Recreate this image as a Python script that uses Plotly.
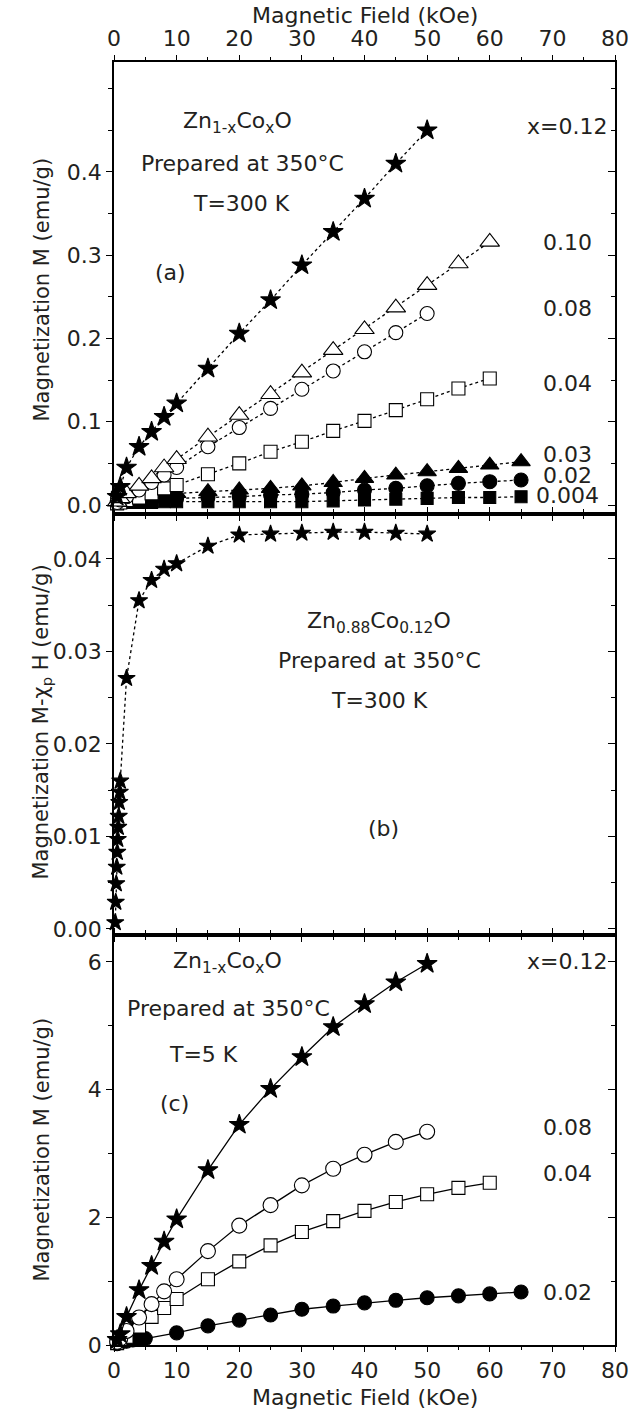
import plotly.graph_objects as go

# ---------------- data ----------------
# Panel (a): Zn1-xCoxO, 350C, T=300 K  (M in emu/g, H in kOe)
a_H_x12 = [0.5, 1, 2, 4, 6, 8, 10, 15, 20, 25, 30, 35, 40, 45, 50]
a_M_x12 = [0.010, 0.022, 0.045, 0.070, 0.088, 0.106, 0.122, 0.164, 0.206, 0.246, 0.288, 0.328, 0.368, 0.410, 0.450]

a_H_x10 = [0.5, 1, 2, 4, 6, 8, 10, 15, 20, 25, 30, 35, 40, 45, 50, 55, 60]
a_M_x10 = [0.004, 0.008, 0.014, 0.023, 0.032, 0.045, 0.055, 0.082, 0.108, 0.133, 0.159, 0.186, 0.211, 0.237, 0.264, 0.290, 0.316]

a_H_x08 = [0.5, 1, 2, 4, 6, 8, 10, 15, 20, 25, 30, 35, 40, 45, 50]
a_M_x08 = [0.003, 0.006, 0.010, 0.018, 0.027, 0.036, 0.045, 0.070, 0.093, 0.116, 0.139, 0.161, 0.184, 0.207, 0.230]

a_H_x04 = [0.5, 1, 2, 4, 6, 8, 10, 15, 20, 25, 30, 35, 40, 45, 50, 55, 60]
a_M_x04 = [0.002, 0.003, 0.006, 0.009, 0.014, 0.020, 0.024, 0.037, 0.050, 0.064, 0.076, 0.089, 0.101, 0.114, 0.127, 0.140, 0.152]

a_H_low = [1, 2, 4, 6, 8, 10, 15, 20, 25, 30, 35, 40, 45, 50, 55, 60, 65]
a_M_x03 = [0.020, 0.012, 0.012, 0.012, 0.013, 0.014, 0.016, 0.018, 0.020, 0.023, 0.027, 0.032, 0.036, 0.040, 0.044, 0.048, 0.052]
a_M_x02 = [0.006, 0.006, 0.007, 0.007, 0.008, 0.008, 0.009, 0.010, 0.012, 0.013, 0.015, 0.018, 0.020, 0.023, 0.026, 0.028, 0.030]
a_M_x004 = [0.003, 0.003, 0.003, 0.003, 0.004, 0.004, 0.004, 0.004, 0.004, 0.004, 0.005, 0.006, 0.007, 0.008, 0.009, 0.009, 0.010]

# Panel (b): Zn0.88Co0.12O, M - chi_p H
b_H = [0.2, 0.28, 0.36, 0.44, 0.52, 0.6, 0.68, 0.76, 0.84, 0.92, 1.0,
       2, 4, 6, 8, 10, 15, 20, 25, 30, 35, 40, 45, 50]
b_M = [0.0007, 0.0029, 0.0049, 0.0067, 0.0083, 0.0097, 0.0110, 0.0122, 0.0137, 0.0148, 0.0160,
       0.0271, 0.0355, 0.0377, 0.0389, 0.0395, 0.0414, 0.0426, 0.0427, 0.0428, 0.0429, 0.0429, 0.0428, 0.0427]

# Panel (c): Zn1-xCoxO, 350C, T=5 K
c_H_x12 = [0.5, 1, 2, 4, 6, 8, 10, 15, 20, 25, 30, 35, 40, 45, 50]
c_M_x12 = [0.08, 0.17, 0.44, 0.86, 1.24, 1.62, 1.97, 2.74, 3.45, 4.01, 4.51, 4.98, 5.34, 5.68, 5.97]

c_H_x08 = [0.5, 1, 2, 4, 6, 8, 10, 15, 20, 25, 30, 35, 40, 45, 50]
c_M_x08 = [0.05, 0.10, 0.22, 0.43, 0.64, 0.84, 1.03, 1.47, 1.87, 2.19, 2.50, 2.76, 2.98, 3.18, 3.34]

c_H_x04 = [0.5, 1, 2, 4, 6, 8, 10, 15, 20, 25, 30, 35, 40, 45, 50, 55, 60]
c_M_x04 = [0.03, 0.06, 0.13, 0.29, 0.44, 0.58, 0.72, 1.03, 1.31, 1.56, 1.77, 1.94, 2.10, 2.24, 2.36, 2.46, 2.54]

c_H_x02 = [0.5, 1, 2, 3, 4, 5, 10, 15, 20, 25, 30, 35, 40, 45, 50, 55, 60, 65]
c_M_x02 = [0.02, 0.04, 0.06, 0.08, 0.09, 0.10, 0.19, 0.30, 0.39, 0.47, 0.56, 0.61, 0.66, 0.70, 0.74, 0.77, 0.80, 0.83]

x_ticks = [0, 10, 20, 30, 40, 50, 60, 70, 80]
a_yticks = [0.0, 0.1, 0.2, 0.3, 0.4]
a_yticklabels = ["0.0", "0.1", "0.2", "0.3", "0.4"]
b_yticks = [0.00, 0.01, 0.02, 0.03, 0.04]
b_yticklabels = ["0.00", "0.01", "0.02", "0.03", "0.04"]
c_yticks = [0, 2, 4, 6]
c_yticklabels = ["0", "2", "4", "6"]

# ---------------- styling ----------------
FONT = "DejaVu Sans"
TXT = "#231f20"
W, H = 641, 1428
L, R, T, B = 114, 15, 62, 83
plot_h = H - T - B
y_ab = 514   # pixel boundary a/b
y_bc = 935   # pixel boundary b/c
def pfrac(py):
    return (H - B - py) / plot_h

dom_a = [pfrac(y_ab), 1.0]
dom_b = [pfrac(y_bc), pfrac(y_ab)]
dom_c = [0.0, pfrac(y_bc)]

rng_a = [-0.0108, 0.532]
rng_b = [-0.00065, 0.04486]
rng_c = [0, 6.42]

fig = go.Figure()

def add(H_, M_, xa, ya, symbol, size, fill, dash, lw=1.3):
    fig.add_trace(go.Scatter(
        x=H_, y=M_, xaxis=xa, yaxis=ya, mode="lines+markers",
        line=dict(color="black", width=lw, dash=dash),
        marker=dict(symbol=symbol, size=size, color=fill,
                    line=dict(color="black", width=1.1)),
        showlegend=False, cliponaxis=False))

# panel (a) -> x3/y3
add(a_H_low, a_M_x004, "x3", "y3", "square", 12, "black", "dot")
add(a_H_low, a_M_x02, "x3", "y3", "circle", 14, "black", "dot")
add(a_H_low, a_M_x03, "x3", "y3", "triangle-up", 16, "black", "dot")
add(a_H_x04, a_M_x04, "x3", "y3", "square", 13, "white", "dot")
add(a_H_x08, a_M_x08, "x3", "y3", "circle", 14, "white", "dot")
add(a_H_x10, a_M_x10, "x3", "y3", "triangle-up", 17, "white", "dot")
add(a_H_x12, a_M_x12, "x3", "y3", "star", 15, "black", "dot")

# panel (b) -> x2/y2
add(b_H, b_M, "x2", "y2", "star", 13, "black", "dot")

# panel (c) -> x/y
add(c_H_x02, c_M_x02, "x", "y", "circle", 14, "black", "solid")
add(c_H_x04, c_M_x04, "x", "y", "square", 13, "white", "solid")
add(c_H_x08, c_M_x08, "x", "y", "circle", 15, "white", "solid")
add(c_H_x12, c_M_x12, "x", "y", "star", 15, "black", "solid")

# dummy traces for right-side inward tick axes
for ya, xa in (("y4", "x"), ("y5", "x2"), ("y6", "x3")):
    fig.add_trace(go.Scatter(x=[None], y=[None], xaxis=xa, yaxis=ya, showlegend=False))

tickfont = dict(family=FONT, size=22, color=TXT)

def xaxis(anchor, show_labels, side="bottom"):
    return dict(range=[0, 80], domain=[0, 1], anchor=anchor, side=side,
                tickmode="array", tickvals=x_ticks,
                ticktext=[str(v) for v in x_ticks],
                showticklabels=show_labels, tickfont=tickfont,
                ticks="outside", ticklen=5, tickwidth=1.4, tickcolor="black",
                minor=dict(tickmode="linear", tick0=5, dtick=10, ticks="outside",
                           ticklen=3, tickwidth=1.2, tickcolor="black"),
                showline=True, linecolor="black", linewidth=1.6, mirror="ticks",
                showgrid=False, zeroline=False, fixedrange=True)

def yaxis(anchor, dom, rng, tv, tt, minor_dt):
    return dict(range=rng, domain=dom, anchor=anchor,
                tickmode="array", tickvals=tv, ticktext=tt, tickfont=tickfont,
                ticks="outside", ticklen=6, tickwidth=1.4, tickcolor="black",
                minor=dict(tickmode="linear", tick0=0, dtick=minor_dt, ticks="outside",
                           ticklen=4, tickwidth=1.2, tickcolor="black"),
                showline=True, linecolor="black", linewidth=1.6, mirror=True,
                showgrid=False, zeroline=False, fixedrange=True)

def yright(over, anchor, rng, tv, minor_dt):
    return dict(overlaying=over, anchor=anchor, side="right", range=rng,
                tickmode="array", tickvals=tv, showticklabels=False,
                ticks="inside", ticklen=7, tickwidth=1.4, tickcolor="black",
                minor=dict(tickmode="linear", tick0=0, dtick=minor_dt, ticks="inside",
                           ticklen=4, tickwidth=1.2, tickcolor="black"),
                showline=False, showgrid=False, zeroline=False, fixedrange=True)

fig.update_layout(
    width=W, height=H, margin=dict(l=L, r=R, t=T, b=B),
    paper_bgcolor="white", plot_bgcolor="white",
    font=dict(family=FONT, size=22, color=TXT),
    xaxis=xaxis("y", True, "bottom"),
    xaxis2=xaxis("y2", False, "bottom"),
    xaxis3=xaxis("y3", True, "top"),
    yaxis=yaxis("x", dom_c, rng_c, c_yticks, c_yticklabels, 1),
    yaxis2=yaxis("x2", dom_b, rng_b, b_yticks, b_yticklabels, 0.005),
    yaxis3=yaxis("x3", dom_a, rng_a, a_yticks, a_yticklabels, 0.05),
    yaxis4=yright("y", "x", rng_c, c_yticks, 1),
    yaxis5=yright("y2", "x2", rng_b, b_yticks, 0.005),
    yaxis6=yright("y3", "x3", rng_a, a_yticks, 0.05),
)

ann = []
def txt(text, px, py, size=22, angle=0):
    ann.append(dict(text=text, xref="paper", yref="paper",
                    x=(px - L) / (W - L - R), y=pfrac(py),
                    xanchor="center", yanchor="middle", showarrow=False,
                    textangle=angle, font=dict(family=FONT, size=size, color=TXT)))

# axis titles
txt("Magnetic Field (kOe)", 370, 16)
txt("Magnetic Field (kOe)", 370, 1397)
txt("Magnetization M (emu/g)", 40, 290, size=21, angle=-90)
txt("Magnetization M-χ<sub>p</sub> H (emu/g)", 40, 722, size=21, angle=-90)
txt("Magnetization M (emu/g)", 40, 1150, size=21, angle=-90)

# panel (a)
txt("Zn<sub>1-x</sub>Co<sub>x</sub>O", 240, 122)
txt("Prepared at 350°C", 245, 164)
txt("T=300 K", 244, 203)
txt("(a)", 172, 272)
txt("x=0.12", 577, 126)
txt("0.10", 577, 242)
txt("0.08", 577, 308)
txt("0.04", 577, 383)
txt("0.03", 577, 454)
txt("0.02", 577, 475)
txt("0.004", 577, 496)

# panel (b)
txt("Zn<sub>0.88</sub>Co<sub>0.12</sub>O", 385, 622)
txt("Prepared at 350°C", 385, 660)
txt("T=300 K", 385, 700)
txt("(b)", 389, 828)

# panel (c)
txt("Zn<sub>1-x</sub>Co<sub>x</sub>O", 230, 962)
txt("Prepared at 350°C", 231, 1008)
txt("T=5 K", 205, 1054)
txt("(c)", 176, 1103)
txt("x=0.12", 577, 961)
txt("0.08", 577, 1127)
txt("0.04", 577, 1173)
txt("0.02", 577, 1292)

fig.update_layout(annotations=ann)
fig.write_html("out.html")
